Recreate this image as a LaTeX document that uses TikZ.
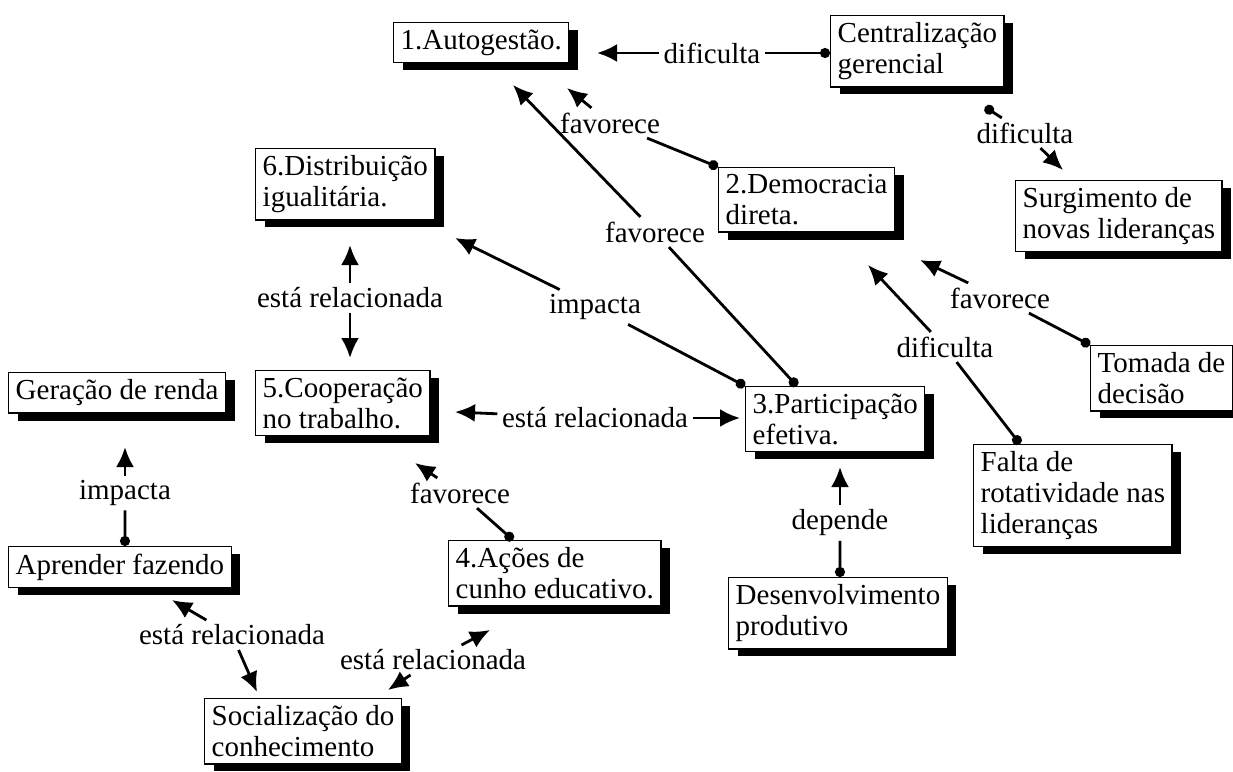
\documentclass[tikz,border=0pt]{standalone}
\usepackage{fontspec}
\setmainfont{Liberation Serif}
\usetikzlibrary{arrows.meta,shadows}

\begin{document}
\begin{tikzpicture}[x=0.02cm,y=-0.02cm]
\tikzset{every node/.style={font=\fontsize{16.5}{17.5}\selectfont, align=left},
  concept/.style={draw, line width=0.8pt, fill=white, anchor=north west,
    inner xsep=4pt, inner ysep=4pt,
    drop shadow={shadow xshift=0.18cm, shadow yshift=-0.15cm, fill=black, opacity=1}},
  tag/.style={inner sep=2.5pt},
  link/.style={line width=1.6pt, -{Latex[length=4mm,width=3.6mm]}},
  dotlink/.style={line width=1.6pt, {Circle[length=2mm]}-}}
\useasboundingbox (0,0) rectangle (1233,771);
% boxes
\node[concept] (auto) at (393,22) {1.Autogestão.};
\node[concept] (cent) at (830,15) {Centralização\\gerencial};
\node[concept] (dist) at (255,148) {6.Distribuição\\igualitária.};
\node[concept] (demo) at (718,167) {2.Democracia\\direta.};
\node[concept] (surg) at (1015,180) {Surgimento de\\novas lideranças};
\node[concept] (toma) at (1090,345) {Tomada de\\decisão};
\node[concept] (coop) at (255,370) {5.Cooperação\\no trabalho.};
\node[concept] (part) at (745,386) {3.Participação\\efetiva.};
\node[concept] (gera) at (8,372) {Geração de renda};
\node[concept] (falt) at (973,444) {Falta de\\rotatividade nas\\lideranças};
\node[concept] (apre) at (8,546) {Aprender fazendo};
\node[concept] (acoe) at (448,540) {4.Ações de\\cunho educativo.};
\node[concept] (dese) at (728,577) {Desenvolvimento\\produtivo};
\node[concept] (soci) at (204,698) {Socialização do\\conhecimento};
% arrow ends
\coordinate (t1) at (597,53);
\coordinate (s2) at (985,107);
\coordinate (t2) at (1063,170);
\coordinate (t3) at (567,88);
\coordinate (t4) at (513,85);
\coordinate (t5) at (455,238);
\coordinate (t6a) at (350,245);
\coordinate (t6b) at (350,358);
\coordinate (t7a) at (455,412);
\coordinate (t7b) at (740,418);
\coordinate (t8) at (920,260);
\coordinate (t9) at (868,265);
\coordinate (t10) at (840,467);
\coordinate (t11) at (415,463);
\coordinate (t12) at (125,447);
\coordinate (t13a) at (172,600);
\coordinate (t13b) at (257,692);
\coordinate (t14a) at (490,630);
\coordinate (t14b) at (388,690);
% labels
\node[tag] (l1) at (712,53) {dificulta};
\node[tag] (l2) at (1025,133) {dificulta};
\node[tag] (l3) at (610,123) {favorece};
\node[tag] (l4) at (655,232) {favorece};
\node[tag] (l5) at (595,307) {impacta};
\node[tag] (l6) at (350,298) {está relacionada};
\node[tag] (l7) at (595,418) {está relacionada};
\node[tag] (l8) at (1000,298) {favorece};
\node[tag] (l9) at (945,347) {dificulta};
\node[tag] (l10) at (840,523) {depende};
\node[tag] (l11) at (460,493) {favorece};
\node[tag] (l12) at (125,493) {impacta};
\node[tag] (l13) at (232,635) {está relacionada};
\node[tag] (l14) at (433,660) {está relacionada};
% connectors
\draw[dotlink] (cent.west |- l1) -- (l1);
\draw[link] (l1) -- (t1);
\draw[dotlink] (s2) -- (l2);
\draw[link] (l2) -- (t2);
\draw[dotlink] (demo.north west) -- (l3);
\draw[link] (l3) -- (t3);
\draw[dotlink] ([xshift=1.04cm]part.north west) -- (l4);
\draw[link] (l4) -- (t4);
\draw[dotlink] (part.north west) -- (l5);
\draw[link] (l5) -- (t5);
\draw[link] (l6) -- (t6a);
\draw[link] (l6) -- (t6b);
\draw[link] (l7) -- (t7a);
\draw[link] (l7) -- (t7b);
\draw[dotlink] (toma.north west) -- (l8);
\draw[link] (l8) -- (t8);
\draw[dotlink] ([xshift=0.94cm]falt.north west) -- (l9);
\draw[link] (l9) -- (t9);
\draw[dotlink] ([xshift=2.24cm]dese.north west) -- (l10);
\draw[link] (l10) -- (t10);
\draw[dotlink] ([xshift=1.3cm]acoe.north west) -- (l11);
\draw[link] (l11) -- (t11);
\draw[dotlink] ([xshift=2.34cm]apre.north west) -- (l12);
\draw[link] (l12) -- (t12);
\draw[link] (l13) -- (t13a);
\draw[link] (l13) -- (t13b);
\draw[link] (l14) -- (t14a);
\draw[link] (l14) -- (t14b);
\end{tikzpicture}
\end{document}
